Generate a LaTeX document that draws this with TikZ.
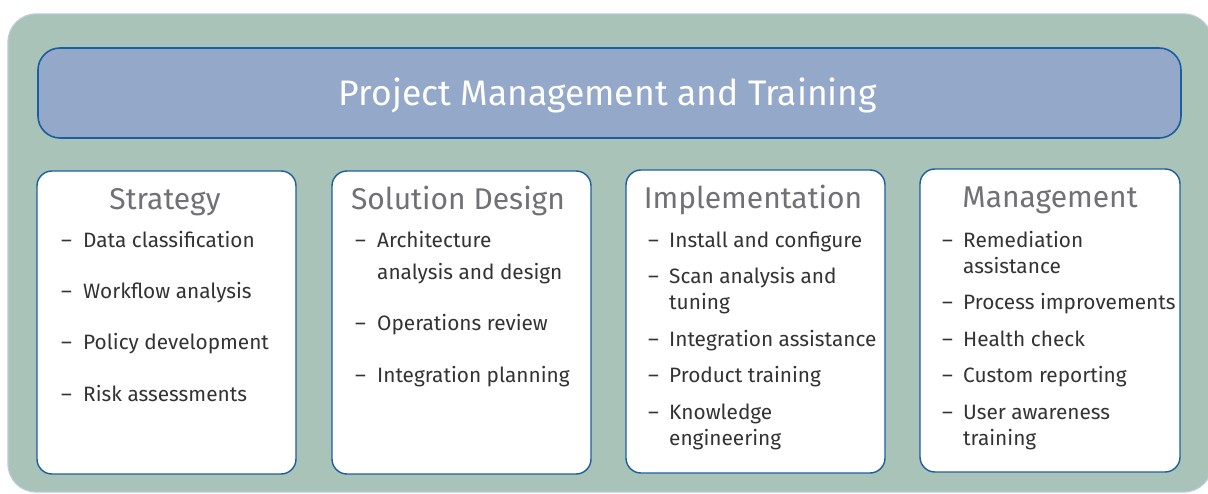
\documentclass[tikz,border=0pt]{standalone}
\usepackage{fontspec}
\setmainfont{Fira Sans}
\definecolor{bgGreen}{HTML}{A9C3B8}
\definecolor{outerLine}{HTML}{B8CCDC}
\definecolor{barFill}{HTML}{94A8C9}
\definecolor{darkBlue}{HTML}{1B5E9E}
\definecolor{titleGray}{HTML}{707175}
\definecolor{textGray}{HTML}{333333}
\tikzset{
  x=1pt,y=1pt,
  outerbox/.style={fill=bgGreen,draw=outerLine,line width=1.2pt,rounded corners=28pt},
  bar/.style={fill=barFill,draw=darkBlue,line width=1.6pt,rounded corners=22pt},
  colbox/.style={fill=white,draw=darkBlue,line width=1.4pt,rounded corners=15pt},
  bartext/.style={text=white,font=\fontsize{35.5}{40}\selectfont,inner sep=0pt},
  coltitle/.style={text=titleGray,font=\fontsize{30}{34}\selectfont,inner sep=0pt,anchor=base},
  dashmark/.style={text=textGray,font=\fontsize{20.8}{25}\selectfont,inner sep=0pt,anchor=base west},
  item/.style={text=textGray,font=\fontsize{20.8}{25}\selectfont,inner sep=0pt,anchor=base west}
}
\begin{document}
\begin{tikzpicture}
\useasboundingbox (0,0) rectangle (1208,493);
% outer background
\draw[outerbox] (8,1) rectangle (1212,479);
% title bar
\draw[bar] (38,355) rectangle (1181,445);
\node[bartext] (title) at (608,398) {Project Management and Training};
% column boxes
\draw[colbox] (37,19) rectangle (296,322);
\draw[colbox] (332,19) rectangle (591,322);
\draw[colbox] (626,20) rectangle (885,323);
\draw[colbox] (920,21) rectangle (1180,324);
% titles
\node[coltitle] (t1) at (165,283) {Strategy};
\node[coltitle] (t2) at (458,283) {Solution Design};
\node[coltitle] (t3) at (753,284) {Implementation};
\node[coltitle] (t4) at (1050,285) {Management};
% column 1
\node[dashmark] (d11) at (61,245) {–};
\node[item] (i11) at (83,245) {Data classification};
\node[dashmark] (d12) at (61,194) {–};
\node[item] (i12) at (83,194) {Workflow analysis};
\node[dashmark] (d13) at (61,143) {–};
\node[item] (i13) at (83,143) {Policy development};
\node[dashmark] (d14) at (61,92) {–};
\node[item] (i14) at (83,92) {Risk assessments};
% column 2
\node[dashmark] (d21) at (355,245) {–};
\node[item] (i21) at (377,245) {Architecture};
\node[item] (i21b) at (377,213) {analysis and design};
\node[dashmark] (d22) at (355,162) {–};
\node[item] (i22) at (377,162) {Operations review};
\node[dashmark] (d23) at (355,110) {–};
\node[item] (i23) at (377,110) {Integration planning};
% column 3
\node[dashmark] (d31) at (648,245) {–};
\node[item] (i31) at (669,245) {Install and configure};
\node[dashmark] (d32) at (648,209) {–};
\node[item] (i32) at (669,209) {Scan analysis and};
\node[item] (i32b) at (669,183) {tuning};
\node[dashmark] (d33) at (648,146) {–};
\node[item] (i33) at (669,146) {Integration assistance};
\node[dashmark] (d34) at (648,110) {–};
\node[item] (i34) at (669,110) {Product training};
\node[dashmark] (d35) at (648,74) {–};
\node[item] (i35) at (669,74) {Knowledge};
\node[item] (i35b) at (669,48) {engineering};
% column 4
\node[dashmark] (d41) at (942,245) {–};
\node[item] (i41) at (963,245) {Remediation};
\node[item] (i41b) at (963,219) {assistance};
\node[dashmark] (d42) at (942,183) {–};
\node[item] (i42) at (963,183) {Process improvements};
\node[dashmark] (d43) at (942,146) {–};
\node[item] (i43) at (963,146) {Health check};
\node[dashmark] (d44) at (942,110) {–};
\node[item] (i44) at (963,110) {Custom reporting};
\node[dashmark] (d45) at (942,74) {–};
\node[item] (i45) at (963,74) {User awareness};
\node[item] (i45b) at (963,48) {training};
\end{tikzpicture}
\end{document}
